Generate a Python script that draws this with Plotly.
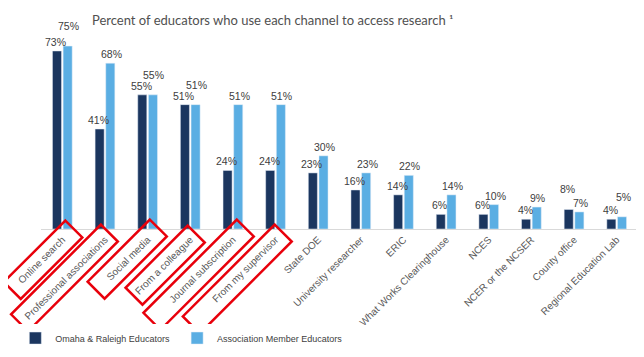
import math
import plotly.graph_objects as go

categories = ["Online search", "Professional associations", "Social media", "From a colleague",
              "Journal subscription", "From my supervisor", "State DOE", "University researcher",
              "ERIC", "What Works Clearinghouse", "NCES", "NCER or the NCSER", "County office",
              "Regional Education Lab"]
omaha = [73, 41, 55, 51, 24, 24, 23, 16, 14, 6, 6, 4, 8, 4]
association = [75, 68, 55, 51, 51, 51, 30, 23, 22, 14, 10, 9, 7, 5]

# highlighted labels (annotation boxes): category index, offset px, drop px, length px
box_cats = [0, 1, 2, 3, 4, 5]
box_dx = [11.5, 4.4, 10.7, 6, 12.4, 7.7]
box_dy = [0, 4, -1, 5, -1, 4]
box_len = [87, 127, 88, 88, 132, 130]

W, H = 644, 357
ML, MT = 32.6, 32
PW, PH = 597, 189
MR = W - ML - PW
MB = H - MT - PH
n = len(categories)
BARGAP, GROUPGAP = 0.5, 0.15

fig = go.Figure()
fig.add_trace(go.Bar(x=categories, y=omaha, name="Omaha & Raleigh Educators",
                     marker_color="#1b365f", legend="legend"))
fig.add_trace(go.Bar(x=categories, y=association, name="Association Member Educators",
                     marker_color="#5aaee3", legend="legend2"))

# value labels as annotations (raise the taller label when a pair is nearly equal)
step = PW / n
slot = step * (1 - BARGAP) / 2
annotations = []
for i, (a, b) in enumerate(zip(omaha, association)):
    close = abs(a - b) <= 2
    raise_a = close and a > b
    raise_b = close and b >= a
    for val, sgn, raised in ((a, -1, raise_a), (b, 1, raise_b)):
        annotations.append(dict(x=categories[i], y=val, xref="x", yref="y", text=f"{val}%",
                                showarrow=False, yanchor="bottom", xshift=sgn * (slot / 2 + 1),
                                yshift=12 if raised else 1,
                                font=dict(size=10.5, color="#404040")))

shapes = []
s = 1 / math.sqrt(2)
T = 24
for c, dx, dy, L in zip(box_cats, box_dx, box_dy, box_len):
    cx = ML + (c + 0.5) * step + dx
    cy = MT + PH + dy
    px, py = s * T / 2, s * T / 2
    ddx, ddy = -s * L, s * L
    pts = [(cx - px, cy - py), (cx + px, cy + py), (cx + px + ddx, cy + py + ddy), (cx - px + ddx, cy - py + ddy)]
    conv = [((x - ML) / PW, (MT + PH - y) / PH) for x, y in pts]
    path = "M " + " L ".join(f"{x:.4f},{y:.4f}" for x, y in conv) + " Z"
    shapes.append(dict(type="path", path=path, xref="paper", yref="paper",
                       line=dict(color="#e8000b", width=2.5)))

fig.update_layout(
    width=W, height=H,
    margin=dict(l=ML, r=MR, t=MT, b=MB, autoexpand=False),
    paper_bgcolor="white", plot_bgcolor="white",
    font=dict(family="Liberation Sans, Arial", color="#595959"),
    title=dict(text="Percent of educators who use each channel to access research ¹",
               x=0.411, xanchor="center", xref="container", y=0.965, yanchor="middle",
               font=dict(family="Lato", size=13, color="#505050")),
    barmode="group", bargap=BARGAP, bargroupgap=GROUPGAP,
    xaxis=dict(showline=True, linecolor="#d9d9d9", linewidth=1, tickangle=-45,
               tickfont=dict(size=10, color="#595959"), automargin=False, ticks=""),
    yaxis=dict(visible=False, range=[0, 77.5]),
    legend=dict(orientation="h", x=-0.043, xanchor="left", y=-0.577, yanchor="middle",
                font=dict(size=9, color="#404040")),
    legend2=dict(orientation="h", x=0.228, xanchor="left", y=-0.577, yanchor="middle",
                 font=dict(size=9, color="#404040")),
    annotations=annotations,
    shapes=shapes,
    showlegend=True,
)
fig.write_html("out.html")
